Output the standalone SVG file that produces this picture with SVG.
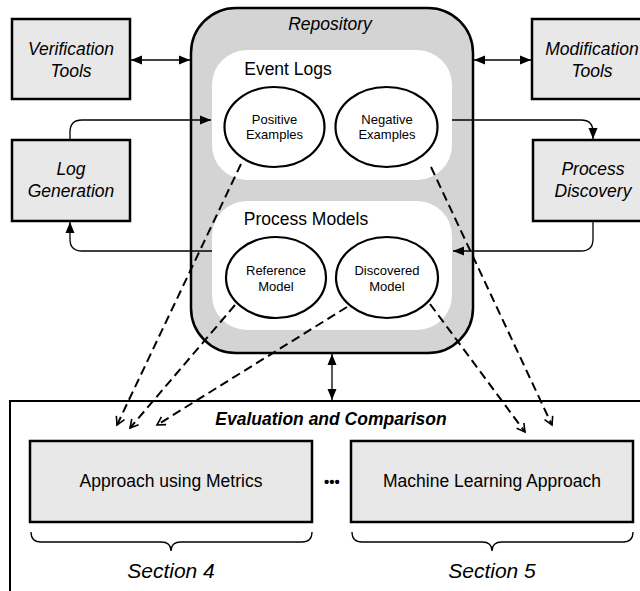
<svg xmlns="http://www.w3.org/2000/svg" width="640" height="591" viewBox="0 0 640 591">
<style>
text{font-family:"Liberation Sans",Arial,sans-serif;fill:#000;text-anchor:middle}
.it{font-style:italic;font-size:17.5px}
.lbl{font-size:17.5px}
.sm{font-size:13px}
.box{fill:#e8e8e8;stroke:#000;stroke-width:2.5}
.ell{fill:#fff;stroke:#000;stroke-width:2.2}
.sol{fill:none;stroke:#000;stroke-width:1.3}
.dash{fill:none;stroke:#000;stroke-width:2;stroke-dasharray:9 5}
</style>
<defs>
<marker id="ah" markerUnits="userSpaceOnUse" markerWidth="12" markerHeight="10" refX="11" refY="5" orient="auto-start-reverse">
<path d="M0,0.5 L11,5 L0,9.5 Z" fill="#000"/>
</marker>
<marker id="oh" markerUnits="userSpaceOnUse" markerWidth="12" markerHeight="12" refX="9" refY="5" orient="auto">
<path d="M1,0.5 L9,5 L1,9.5" fill="none" stroke="#000" stroke-width="1.6"/>
</marker>
</defs>

<g id="evaluation">
<rect x="10" y="401" width="650" height="210" fill="#fff" stroke="#000" stroke-width="2"/>
<text x="331" y="425" style="font-weight:bold;font-style:italic;font-size:17.5px">Evaluation and Comparison</text>
</g>

<g id="repository">
<rect x="191" y="8" width="282" height="345" rx="45" ry="45" fill="#d4d4d4" stroke="#000" stroke-width="2.5"/>
<text class="it" x="330" y="30">Repository</text>
</g>

<g id="event-logs">
<rect x="212" y="50" width="240" height="130" rx="35" ry="35" fill="#fff"/>
<text class="lbl" x="288" y="75">Event Logs</text>
</g>
<g id="positive-examples">
<ellipse class="ell" cx="274.5" cy="127" rx="50" ry="40"/>
<text class="sm" x="274.5" y="124">Positive</text>
<text class="sm" x="274.5" y="139">Examples</text>
</g>
<g id="negative-examples">
<ellipse class="ell" cx="386.5" cy="127" rx="51" ry="40"/>
<text class="sm" x="387" y="124">Negative</text>
<text class="sm" x="387" y="139">Examples</text>
</g>

<g id="process-models">
<rect x="212" y="201" width="240" height="129" rx="35" ry="35" fill="#fff"/>
<text class="lbl" x="306" y="225">Process Models</text>
</g>
<g id="reference-model">
<ellipse class="ell" cx="276" cy="277.5" rx="50" ry="40.5"/>
<text class="sm" x="276" y="275">Reference</text>
<text class="sm" x="276" y="291">Model</text>
</g>
<g id="discovered-model">
<ellipse class="ell" cx="387" cy="277.5" rx="51" ry="40.5"/>
<text class="sm" x="387" y="275">Discovered</text>
<text class="sm" x="387" y="291">Model</text>
</g>

<g id="verification-tools">
<rect class="box" x="12" y="19" width="118" height="80"/>
<text class="it" x="71" y="55">Verification</text>
<text class="it" x="71" y="77">Tools</text>
</g>
<g id="log-generation">
<rect class="box" x="12" y="140" width="118" height="81"/>
<text class="it" x="71" y="175">Log</text>
<text class="it" x="71" y="197">Generation</text>
</g>
<g id="modification-tools">
<rect class="box" x="532" y="19" width="120" height="80"/>
<text class="it" x="592" y="55">Modification</text>
<text class="it" x="592" y="77">Tools</text>
</g>
<g id="process-discovery">
<rect class="box" x="533" y="140" width="120" height="81"/>
<text class="it" x="593" y="175">Process</text>
<text class="it" x="593" y="197">Discovery</text>
</g>

<g id="approach-metrics">
<rect class="box" x="30" y="441" width="282" height="81"/>
<text class="lbl" x="171" y="487">Approach using Metrics</text>
</g>
<g id="machine-learning">
<rect class="box" x="351" y="441" width="282" height="81"/>
<text class="lbl" x="492" y="487">Machine Learning Approach</text>
</g>
<g id="dots">
<text x="332" y="487" style="font-size:15px;font-weight:bold">•••</text>
</g>

<g id="braces">
<path class="sol" d="M31,532 Q31,542 41,542 H161 Q171,542 171,551 Q171,542 181,542 H302 Q312,542 312,532"/>
<path class="sol" d="M352,532 Q352,542 362,542 H482 Q492,542 492,551 Q492,542 502,542 H623 Q633,542 633,532"/>
<text x="171" y="578" style="font-style:italic;font-size:21px">Section 4</text>
<text x="492" y="578" style="font-style:italic;font-size:21px">Section 5</text>
</g>

<g id="connectors">
<path class="sol" d="M131,60 H190" marker-start="url(#ah)" marker-end="url(#ah)"/>
<path class="sol" d="M474,60 H531" marker-start="url(#ah)" marker-end="url(#ah)"/>
<path class="sol" d="M70,140 V132 Q70,120 82,120 H211" marker-end="url(#ah)"/>
<path class="sol" d="M212,251 H82 Q70,251 70,239 V222" marker-end="url(#ah)"/>
<path class="sol" d="M452,120 H581 Q593,120 593,132 V139" marker-end="url(#ah)"/>
<path class="sol" d="M593,221 V239 Q593,251 581,251 H453" marker-end="url(#ah)"/>
<path class="sol" d="M332,354 V400" marker-start="url(#ah)" marker-end="url(#ah)"/>
<path class="dash" d="M241,164 L117,425" marker-end="url(#oh)"/>
<path class="dash" d="M235,305 L130,428" marker-end="url(#oh)"/>
<path class="dash" d="M347,307 L157,425" marker-end="url(#oh)"/>
<path class="dash" d="M430,304 L525,432" marker-end="url(#oh)"/>
<path class="dash" d="M431,167 L552,425" marker-end="url(#oh)"/>
</g>
</svg>
